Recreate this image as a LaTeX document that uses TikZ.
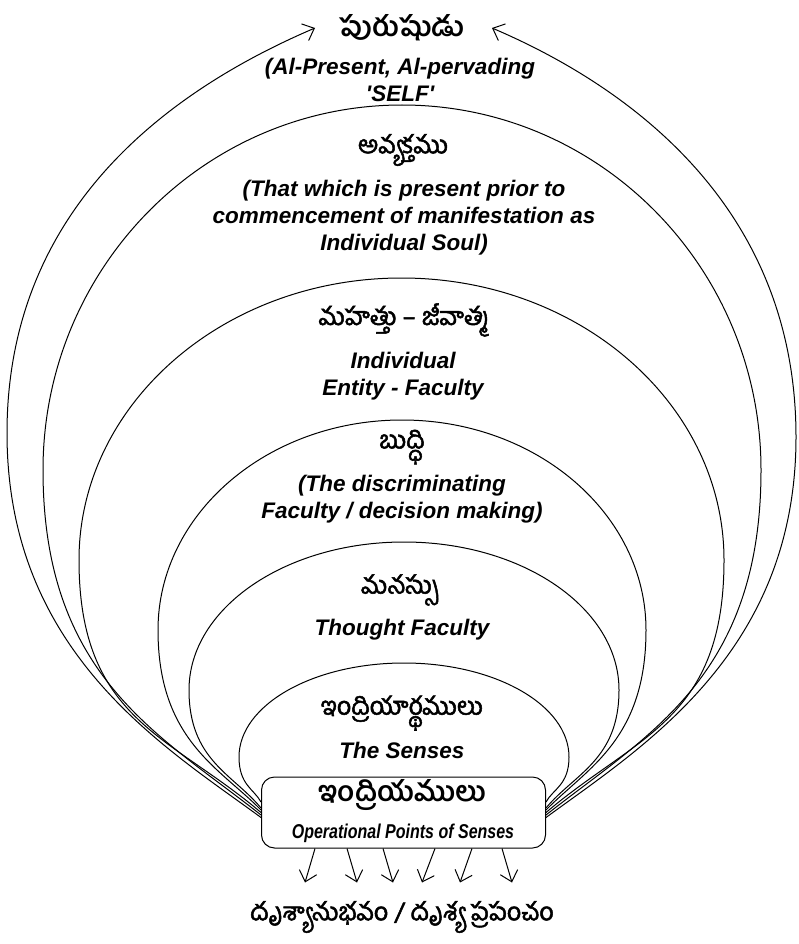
\documentclass[tikz,border=0pt]{standalone}
\usepackage{graphicx}
\usepackage{fontspec}
\setmainfont{Liberation Sans}
\newfontfamily\telugu[Script=Telugu, FakeBold=2]{Hind Guntur}
\newfontfamily\telugub[Script=Telugu]{Hind Guntur}
\usetikzlibrary{positioning,arrows.meta}

\begin{document}
\begin{tikzpicture}[
				x=1pt, y=1pt,
				line width=1pt,
				tel/.style={
					font=\telugu\fontsize{25}{30}\selectfont,
					inner sep=0pt
					},
				telbig/.style={
					font=\telugub\bfseries\fontsize{28}{32}\selectfont,
					inner sep=0pt
					},
				gloss/.style={
					font=\bfseries\itshape\fontsize{22.5}{27}\selectfont,
					align=center,
					inner sep=0pt
					},
				organbox/.style={
					draw,
					fill=white,
					rounded corners=13pt,
					minimum width=284pt,
					minimum height=71pt
					},
				sense/.style={
					-{Straight Barb[length=10pt,width=18pt]}
					}]
			    \useasboundingbox (0,0) rectangle (799,-944);

			    % Place nodes
			    \node [organbox] (organs) at (403.5,-812.5) {};
			    \node [telbig] (purusha) at (402,-28) {పురుషుడు};
			    \node [gloss] (selfgloss) at (400,-80) {(Al-Present, Al-pervading\\\textquotesingle SELF\textquotesingle};
			    \node [tel] (avyakta) at (403,-150) {అవ్యక్తము};
			    \node [gloss] (avyaktagloss) at (404,-218) {(That which is present prior to\\commencement of manifestation as\\Individual Soul)};
			    \node [tel] (mahat) at (404,-320) {మహత్తు – జీవాత్మ};
			    \node [gloss] (mahatgloss) at (403,-376) {Individual\\Entity - Faculty};
			    \node [tel] (buddhi) at (402,-447) {బుద్ధి};
			    \node [gloss] (buddhigloss) at (402,-499) {(The discriminating\\Faculty / decision making)};
			    \node [tel] (manas) at (400,-590) {మనస్సు};
			    \node [gloss] (manasgloss) at (402,-630) {Thought Faculty};
			    \node [tel] (artha) at (402,-713) {ఇంద్రియార్థములు};
			    \node [gloss] (arthagloss) at (402,-750) {The Senses};
			    \node [telbig] (organname) at (402,-795.5) {ఇంద్రియములు};
			    \node [gloss, font=\bfseries\itshape\fontsize{20}{23}\selectfont] (organgloss) at (403,-833) {\scalebox{0.8}[1]{Operational Points of Senses}};
			    \node [tel] (world) at (402,-917) {దృశ్యానుభవం / దృశ్య ప్రపంచం};

			    % Draw arches
			    \draw ([yshift=-2.5pt]organs.west) .. controls (160,-735) and (43,-677) .. (43,-470)
			        arc[start angle=180, end angle=0, x radius=359pt, y radius=365pt]
			        .. controls (761,-677) and (647,-735) .. ([yshift=-2.5pt]organs.east);
			    \draw (organs.west) .. controls (170,-735) and (79,-720) .. (79,-560)
			        arc[start angle=180, end angle=0, x radius=322.5pt, y radius=282pt]
			        .. controls (724,-720) and (637,-735) .. (organs.east);
			    \draw ([yshift=2.5pt]organs.west) .. controls (220,-768) and (158,-740) .. (158,-630)
			        arc[start angle=180, end angle=0, x radius=244pt, y radius=210pt]
			        .. controls (646,-740) and (587,-768) .. ([yshift=2.5pt]organs.east);
			    \draw ([yshift=4.5pt]organs.west) .. controls (233,-774) and (189,-760) .. (189,-690)
			        arc[start angle=180, end angle=0, x radius=215pt, y radius=148pt]
			        .. controls (619,-760) and (574,-774) .. ([yshift=4.5pt]organs.east);
			    \draw ([yshift=10.5pt]organs.west) .. controls (254,-789) and (239,-785) .. (239,-757)
			        arc[start angle=180, end angle=0, x radius=165pt, y radius=94pt]
			        .. controls (569,-785) and (553,-789) .. ([yshift=10.5pt]organs.east);

			    % Draw edges
			    \draw [sense] ([yshift=-5pt]organs.west) .. controls (165,-747) and (7,-653) .. (7,-433)
			        .. controls (7,-203) and (177,-87) .. ([xshift=-87pt]purusha.center);
			    \draw [sense] ([yshift=-5pt]organs.east) .. controls (642,-747) and (796,-653) .. (796,-437)
			        .. controls (796,-207) and (630,-87) .. ([xshift=90pt]purusha.center);
			    \draw [sense] ([xshift=-88.5pt]organs.south) -- ([xshift=-98.5pt,yshift=-34pt]organs.south);
			    \draw [sense] ([xshift=-56.5pt]organs.south) -- ([xshift=-46.5pt,yshift=-34pt]organs.south);
			    \draw [sense] ([xshift=-20.5pt]organs.south) -- ([xshift=-10.5pt,yshift=-34pt]organs.south);
			    \draw [sense] ([xshift=31.5pt]organs.south) -- ([xshift=18.5pt,yshift=-34pt]organs.south);
			    \draw [sense] ([xshift=68.5pt]organs.south) -- ([xshift=56.5pt,yshift=-34pt]organs.south);
			    \draw [sense] ([xshift=98.5pt]organs.south) -- ([xshift=108.5pt,yshift=-34pt]organs.south);
			\end{tikzpicture}
\end{document}
